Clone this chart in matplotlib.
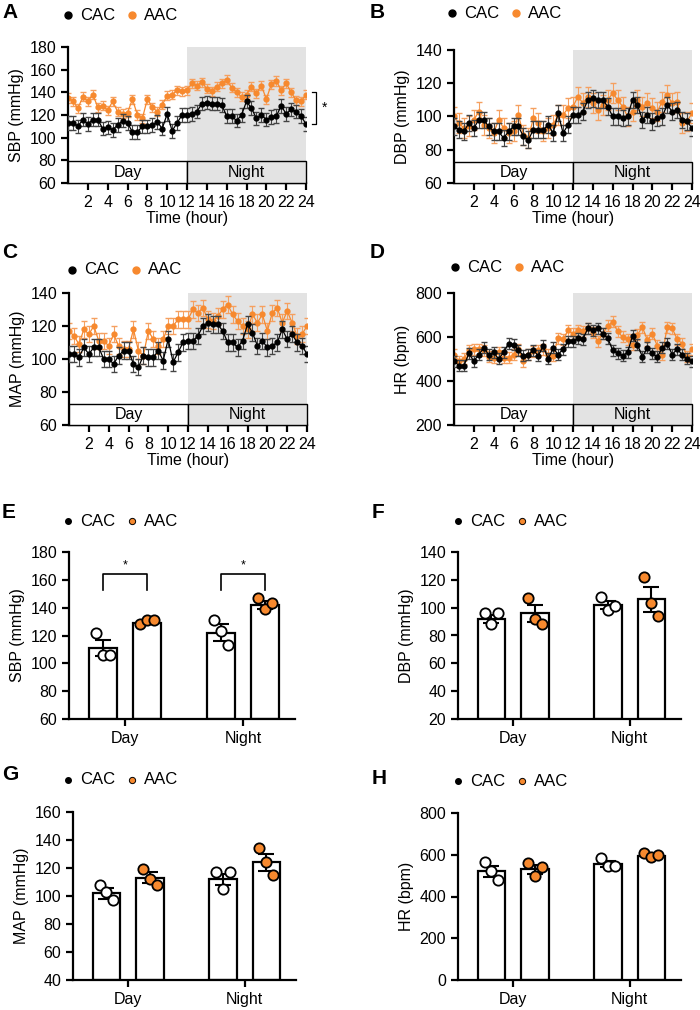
import numpy as np
import matplotlib
matplotlib.use("Agg")
import matplotlib.pyplot as plt
from matplotlib.patches import Rectangle

plt.rcParams['font.family'] = ['Liberation Sans', 'DejaVu Sans']

hours = np.arange(0, 24.01, 0.5)
xticks = [2, 4, 6, 8, 10, 12, 14, 16, 18, 20, 22, 24]

sbp_cac = [113,113,110,116,112,116,116,108,109,107,111,115,113,105,105,110,110,111,114,108,121,106,113,120,
           120,121,123,130,131,130,130,129,119,119,115,120,132,126,117,120,116,118,119,128,121,125,123,119,112]
sbp_aac = [135,132,126,136,132,138,127,128,124,132,123,121,122,134,120,117,134,127,123,129,137,138,142,141,
           142,148,146,149,143,141,145,148,151,144,140,136,138,145,139,146,134,147,150,142,148,140,133,132,138]
dbp_cac = [94,92,91,96,93,98,98,94,91,91,87,91,94,94,88,86,92,92,92,95,90,102,90,95,
           101,101,103,110,111,110,110,106,100,100,99,100,110,107,98,101,97,99,100,107,103,104,98,97,93]
dbp_aac = [100,96,93,94,98,103,95,93,90,98,93,90,91,101,89,87,99,96,91,93,95,101,101,105,
           106,112,108,112,108,104,107,110,114,110,106,100,103,110,106,108,105,103,109,113,108,109,96,97,102]
map_cac = [103,103,101,107,103,107,107,100,100,97,102,105,105,97,95,102,101,101,105,99,112,98,104,110,
           111,111,114,120,122,121,121,117,110,110,107,111,121,116,108,111,107,108,110,118,112,115,110,108,103]
map_aac = [117,114,109,118,115,120,111,111,108,115,108,106,106,118,105,102,117,112,108,112,120,120,124,124,
           124,130,128,131,124,123,126,130,133,127,123,120,118,127,122,127,117,128,131,122,129,122,114,115,120]
hr_cac = [490,470,470,525,490,520,550,520,530,500,530,570,565,540,515,520,540,515,560,500,550,520,545,580,
          580,595,590,640,630,640,615,595,540,525,515,530,605,565,510,550,525,510,550,570,520,545,520,500,490]
hr_aac = [520,490,500,540,545,545,540,510,505,530,505,505,520,545,490,520,535,540,545,520,515,595,590,630,
          615,630,625,640,620,580,615,650,670,625,600,590,565,610,645,585,615,560,520,645,640,590,570,510,545]
err_sbp = [6, 4]
err_dbp = [5, 6]
err_map = [5, 5]
err_hr = [25, 25]

groups = ["Day", "Night"]
bar_sbp_mean = [111, 129, 122, 142]; bar_sbp_err = [6, 1, 6, 3]
bar_sbp_pts = [[122,106,106],[128,131,131],[131,123,113],[147,139,143]]
bar_dbp_mean = [92, 96, 102, 106]; bar_dbp_err = [3, 6, 3, 9]
bar_dbp_pts = [[96,88,96],[107,92,88],[108,98,101],[122,103,94]]
bar_map_mean = [102, 113, 112, 124]; bar_map_err = [4, 4, 4, 6]
bar_map_pts = [[108,103,97],[119,112,108],[117,105,117],[134,124,115]]
bar_hr_mean = [520, 530, 555, 595]; bar_hr_err = [25, 20, 15, 8]
bar_hr_pts = [[565,520,480],[560,500,540],[585,545,545],[610,590,600]]

ORANGE = '#F7892E'
W, H = 700, 1010
fig = plt.figure(figsize=(7, 10.1), dpi=100)

def ax_px(l, t, r, b):
    return fig.add_axes([l / W, 1 - b / H, (r - l) / W, (b - t) / H])

def style(ax):
    for s in ['top', 'right']:
        ax.spines[s].set_visible(False)
    for s in ['left', 'bottom']:
        ax.spines[s].set_linewidth(1.6)
    ax.tick_params(width=1.6, length=5, labelsize=11.5)

def legend(x0, y0, small=False):
    y = 1 - y0 / H
    if small:
        fig.lines.append(plt.Line2D([x0 / W], [y], marker='o', ms=4, color='black', transform=fig.transFigure))
        fig.lines.append(plt.Line2D([(x0 + 64) / W], [y], marker='o', ms=4.5, mfc=ORANGE, mec='black', mew=0.7,
                                    color='none', transform=fig.transFigure))
    else:
        fig.lines.append(plt.Line2D([x0 / W], [y], marker='o', ms=5, color='black', transform=fig.transFigure))
        fig.lines.append(plt.Line2D([(x0 + 64) / W], [y], marker='o', ms=5, color=ORANGE, transform=fig.transFigure))
    fig.text((x0 + 12) / W, y, 'CAC', fontsize=12, va='center')
    fig.text((x0 + 76) / W, y, 'AAC', fontsize=12, va='center')

def ts(ax, cac, aac, err, ylim, yticks, ylabel):
    ax.add_patch(Rectangle((12, ylim[0]), 12, ylim[1] - ylim[0], color='#e3e3e3', zorder=0, lw=0))
    ax.errorbar(hours, aac, yerr=err[1], color=ORANGE, marker='o', ms=3.5, lw=0.9, elinewidth=0.8,
                capsize=2, ecolor='#f5a060', zorder=2)
    ax.errorbar(hours, cac, yerr=err[0], color='black', marker='o', ms=3.5, lw=0.9, elinewidth=0.8,
                capsize=2, ecolor='#444444', zorder=3)
    ax.set_xlim(0, 24); ax.set_ylim(*ylim)
    ax.set_yticks(yticks); ax.set_xticks(xticks)
    style(ax)
    ax.set_ylabel(ylabel, fontsize=11.5)
    ax.set_xlabel('Time (hour)', fontsize=11.5, labelpad=1)
    bh = (ylim[1] - ylim[0]) * 0.16
    ax.add_patch(Rectangle((0, ylim[0]), 12, bh, facecolor='white', edgecolor='black', lw=1, zorder=4, clip_on=False))
    ax.add_patch(Rectangle((12, ylim[0]), 12, bh, facecolor='#e3e3e3', edgecolor='black', lw=1, zorder=4, clip_on=False))
    ax.text(6, ylim[0] + bh / 2, 'Day', ha='center', va='center', fontsize=11.5, zorder=5)
    ax.text(18, ylim[0] + bh / 2, 'Night', ha='center', va='center', fontsize=11.5, zorder=5)

bar_x = [0, 1, 2.68, 3.68]
def bars(ax, means, errs, pts, ylim, yticks, ylabel):
    for i, (x, m, e, p) in enumerate(zip(bar_x, means, errs, pts)):
        ax.bar(x, m - ylim[0], bottom=ylim[0], width=0.63, color='white', edgecolor='black', lw=1.6, zorder=1)
        ax.errorbar(x, m, yerr=e, color='black', capsize=6, elinewidth=1.5, capthick=1.5, zorder=2)
        fc = 'white' if i % 2 == 0 else ORANGE
        ax.scatter(np.array([x - 0.16, x, x + 0.16]), p, s=55, facecolor=fc, edgecolor='black', lw=1.3, zorder=3)
    ax.set_xlim(-0.77, 4.36); ax.set_ylim(*ylim)
    ax.set_yticks(yticks)
    ax.set_xticks([0.5, 3.18]); ax.set_xticklabels(groups)
    style(ax)
    ax.set_ylabel(ylabel, fontsize=11.5)

axA = ax_px(68, 47, 306, 183)
ts(axA, sbp_cac, sbp_aac, err_sbp, (60, 180), range(60, 181, 20), 'SBP (mmHg)')
axB = ax_px(454, 50, 692, 183)
ts(axB, dbp_cac, dbp_aac, err_dbp, (60, 140), range(60, 141, 20), 'DBP (mmHg)')
axC = ax_px(69, 293, 307, 425)
ts(axC, map_cac, map_aac, err_map, (60, 140), range(60, 141, 20), 'MAP (mmHg)')
axD = ax_px(454, 293, 692, 425)
ts(axD, hr_cac, hr_aac, err_hr, (200, 800), range(200, 801, 200), 'HR (bpm)')

axA.plot([24.6, 25, 25, 24.6], [140, 140, 112, 112], color='black', lw=0.9, clip_on=False)
axA.text(25.6, 126, '*', fontsize=10, va='center')

axE = ax_px(69, 552, 295, 719)
bars(axE, bar_sbp_mean, bar_sbp_err, bar_sbp_pts, (60, 180), range(60, 181, 20), 'SBP (mmHg)')
for a, b in [(0, 1), (2.68, 3.68)]:
    axE.plot([a, a, b, b], [153, 164, 164, 153], color='black', lw=1.2)
    axE.text((a + b) / 2, 166, '*', ha='center', va='bottom', fontsize=9)
axF = ax_px(458, 552, 681, 719)
bars(axF, bar_dbp_mean, bar_dbp_err, bar_dbp_pts, (20, 140), range(20, 141, 20), 'DBP (mmHg)')
axG = ax_px(73, 812, 296, 980)
bars(axG, bar_map_mean, bar_map_err, bar_map_pts, (40, 160), range(40, 161, 20), 'MAP (mmHg)')
axH = ax_px(458, 813, 681, 980)
bars(axH, bar_hr_mean, bar_hr_err, bar_hr_pts, (0, 800), range(0, 801, 200), 'HR (bpm)')

for lab, x, y in [('A', 2, 12), ('B', 370, 12), ('C', 2, 252), ('D', 370, 252),
                  ('E', 2, 512), ('F', 372, 512), ('G', 2, 775), ('H', 372, 778)]:
    fig.text(x / W, 1 - y / H, lab, fontsize=15, fontweight='bold', va='center')

legend(68, 15); legend(452, 13); legend(72, 270); legend(455, 267)
legend(68, 521, True); legend(458, 521, True); legend(68, 780, True); legend(458, 781, True)

fig.savefig('out.png', dpi=100)
